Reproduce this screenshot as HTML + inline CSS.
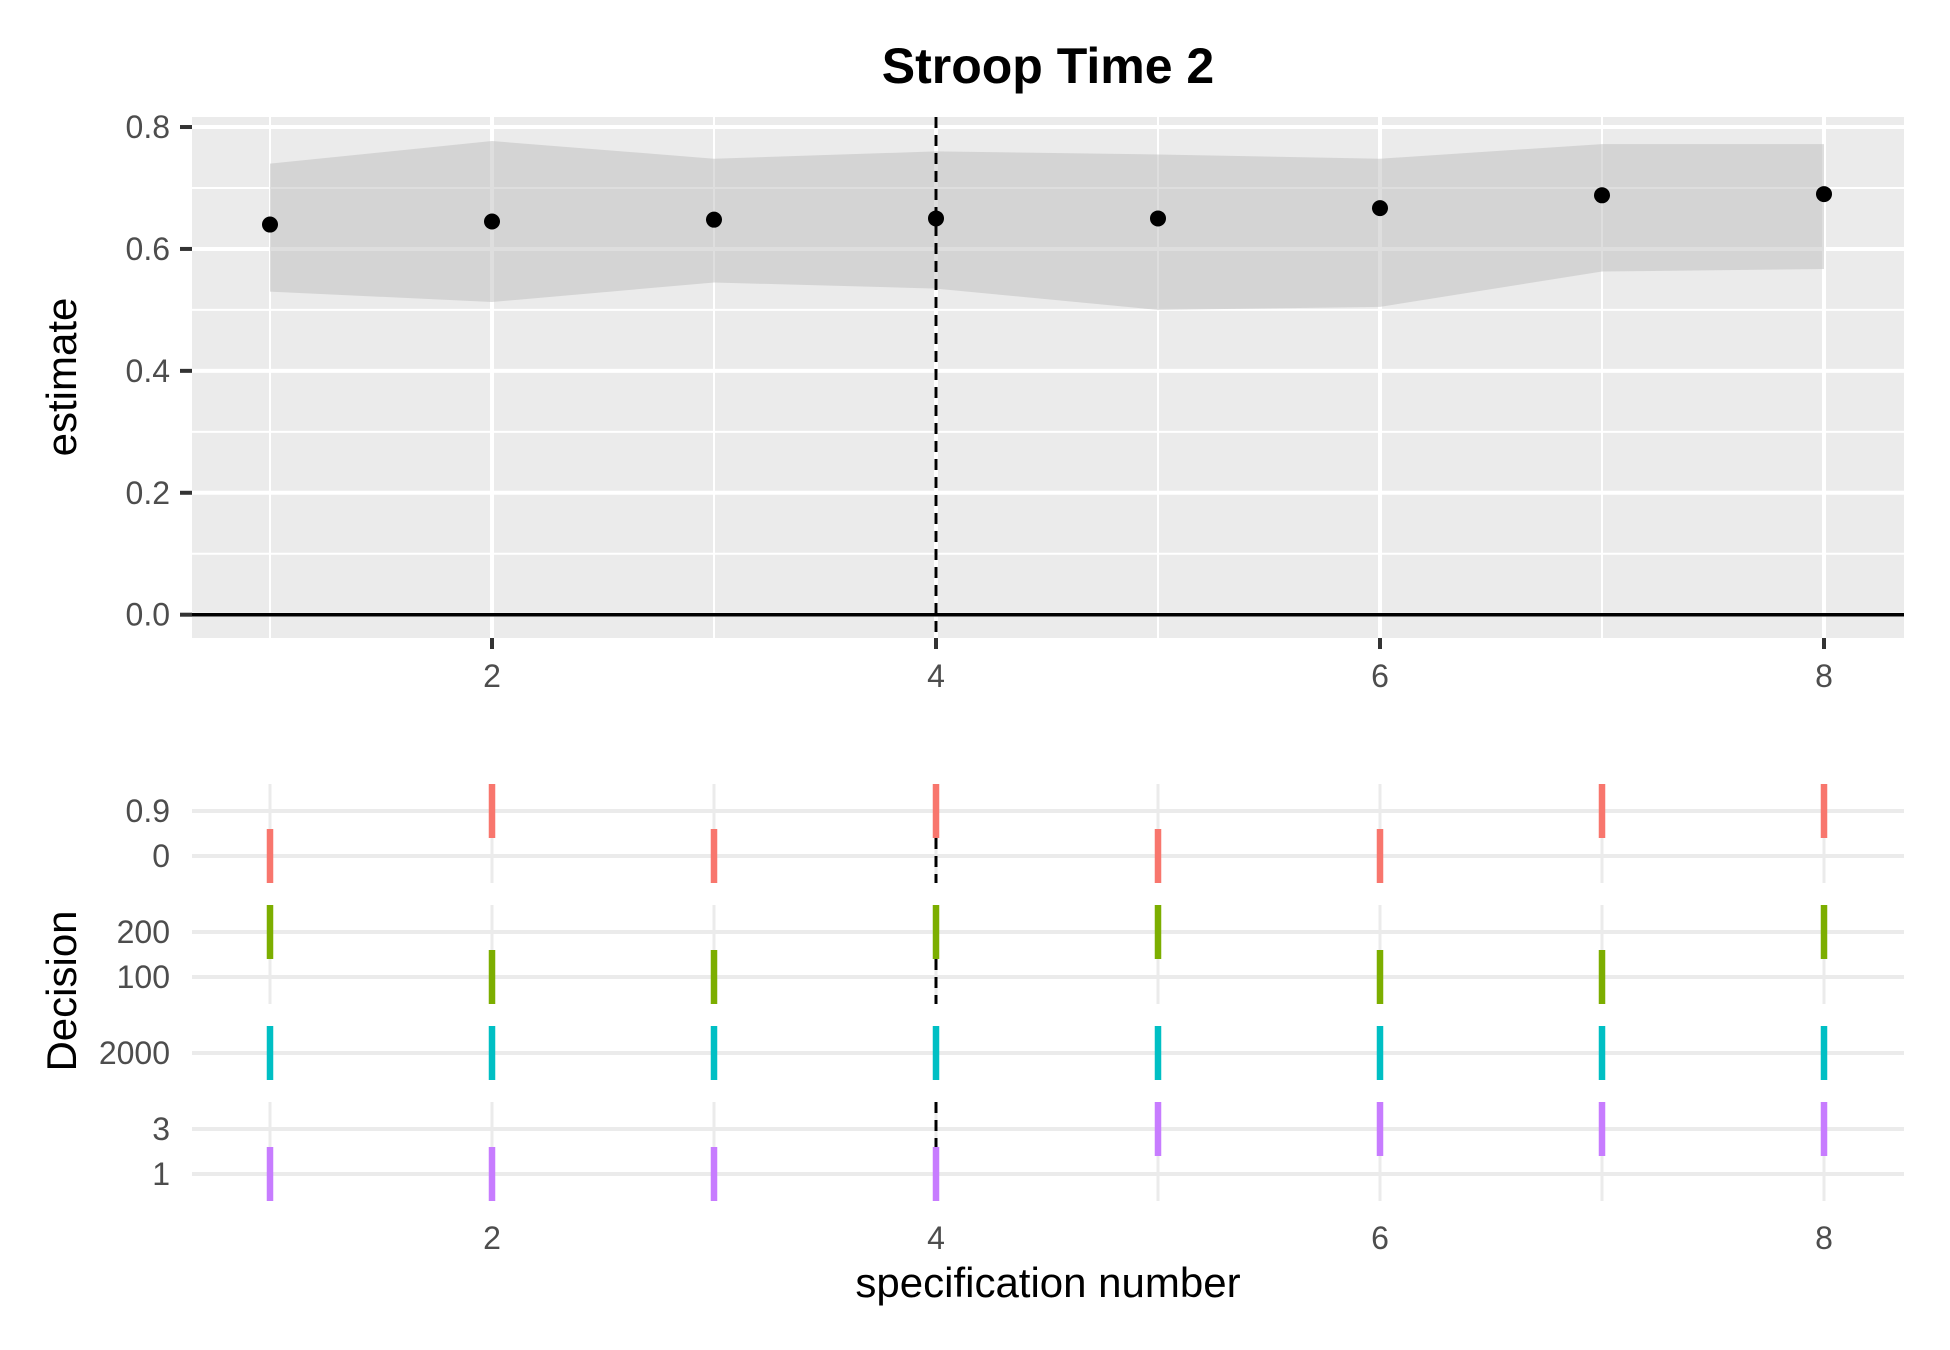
<!DOCTYPE html>
<html><head><meta charset="utf-8"><style>
html,body{margin:0;padding:0;background:#fff;}
svg{display:block;font-family:"Liberation Sans",Arial,sans-serif;}
</style></head><body>
<svg id="chart" width="1950" height="1350" viewBox="0 0 1950 1350" xmlns="http://www.w3.org/2000/svg">
<text x="1048" y="83" font-size="50" font-weight="bold" text-anchor="middle" fill="#000">Stroop Time 2</text>
<g id="topPanel"></g>
<g id="bottomPanel"></g>
<text transform="translate(76,377) rotate(-90)" font-size="42" text-anchor="middle" fill="#000">estimate</text>
<text transform="translate(76,991) rotate(-90)" font-size="42" text-anchor="middle" fill="#000">Decision</text>
<text x="1048" y="1297" font-size="42" text-anchor="middle" fill="#000">specification number</text>
</svg>
<script>
const specs = [1,2,3,4,5,6,7,8];
const estimates = [0.64,0.645,0.648,0.65,0.65,0.667,0.688,0.69];
const upper = [0.74,0.777,0.748,0.76,0.755,0.748,0.772,0.772];
const lower = [0.53,0.513,0.545,0.535,0.5,0.505,0.563,0.567];
const yTicks = [0,0.2,0.4,0.6,0.8];
const yTickLabels = ["0.0","0.2","0.4","0.6","0.8"];
const xTicks = [2,4,6,8];
const highlightSpec = 4;
const dec1Cats = ["0","0.9"];
const dec1Vals = ["0","0.9","0","0.9","0","0","0.9","0.9"];
const dec2Cats = ["100","200"];
const dec2Vals = ["200","100","100","200","200","100","100","200"];
const dec3Cats = ["2000"];
const dec3Vals = ["2000","2000","2000","2000","2000","2000","2000","2000"];
const dec4Cats = ["1","3"];
const dec4Vals = ["1","1","1","1","3","3","3","3"];

const NS="http://www.w3.org/2000/svg";
function mk(parent,tag,attrs){const e=document.createElementNS(NS,tag);for(const k in attrs)e.setAttribute(k,attrs[k]);parent.appendChild(e);return e;}
const L=192,R=1904;
const X=v=>270+(v-1)*222;
const Y=v=>614.7-v*609.6;
const topG=document.getElementById('topPanel');
let el;
el=mk(topG,'rect',{x:L,y:117,width:R-L,height:521,fill:'#ebebeb'});


[0.1,0.3,0.5,0.7].forEach(v=>{el=mk(topG,'line',{x1:L,x2:R,y1:Y(v),y2:Y(v),stroke:'#fff','stroke-width':2});

});
[1,3,5,7].forEach(v=>{el=mk(topG,'line',{x1:X(v),x2:X(v),y1:117,y2:638,stroke:'#fff','stroke-width':2});

});
yTicks.forEach((v,i)=>{el=mk(topG,'line',{x1:L,x2:R,y1:Y(v),y2:Y(v),stroke:'#fff','stroke-width':4});


el=mk(topG,'line',{x1:180,x2:L,y1:Y(v),y2:Y(v),stroke:'#333','stroke-width':4});


el=mk(topG,'text',{x:170,y:Y(v)+11,'font-size':32,'text-anchor':'end',fill:'#4d4d4d'});el.textContent=yTickLabels[i];

});
xTicks.forEach(v=>{el=mk(topG,'line',{x1:X(v),x2:X(v),y1:117,y2:638,stroke:'#fff','stroke-width':4});

});
let d='M'+specs.map((s,i)=>X(s)+','+Y(upper[i])).join(' L')+' L'+specs.slice().reverse().map((s,j)=>{const i=specs.length-1-j;return X(s)+','+Y(lower[i]);}).join(' L')+'Z';
el=mk(topG,'path',{d:d,fill:'#bdbdbd','fill-opacity':0.5});


el=mk(topG,'line',{x1:L,x2:R,y1:Y(0),y2:Y(0),stroke:'#000','stroke-width':3.5});


el=mk(topG,'line',{x1:X(highlightSpec),x2:X(highlightSpec),y1:117,y2:638,stroke:'#000','stroke-width':3,'stroke-dasharray':'11 7'});


specs.forEach((s,i)=>{el=mk(topG,'circle',{cx:X(s),cy:Y(estimates[i]),r:8,fill:'#000'});

});
xTicks.forEach(v=>{el=mk(topG,'line',{x1:X(v),x2:X(v),y1:638,y2:649,stroke:'#333','stroke-width':4});


el=mk(topG,'text',{x:X(v),y:687,'font-size':32,'text-anchor':'middle',fill:'#4d4d4d'});el.textContent=v;

});

const bottomG=document.getElementById('bottomPanel');
const facets=[{cats:dec1Cats,vals:dec1Vals,base:856,col:'#F8766D'},{cats:dec2Cats,vals:dec2Vals,base:977,col:'#7CAE00'},{cats:dec3Cats,vals:dec3Vals,base:1053,col:'#00BFC4'},{cats:dec4Cats,vals:dec4Vals,base:1174,col:'#C77CFF'}];
const STEP=45;
facets.forEach(f=>{
 const FY=c=>f.base-f.cats.indexOf(c)*STEP;
 const y0=f.base+0.6*STEP, y1=f.base-(f.cats.length-1)*STEP-0.6*STEP;
 specs.forEach(s=>{el=mk(bottomG,'line',{x1:X(s),x2:X(s),y1:y0,y2:y1,stroke:'#ebebeb','stroke-width':3});
 
 });
 f.cats.forEach(c=>{el=mk(bottomG,'line',{x1:L,x2:R,y1:FY(c),y2:FY(c),stroke:'#ebebeb','stroke-width':4});
 
 
 el=mk(bottomG,'text',{x:170,y:FY(c)+11,'font-size':32,'text-anchor':'end',fill:'#4d4d4d'});el.textContent=c;
 
 });
 el=mk(bottomG,'line',{x1:X(highlightSpec),x2:X(highlightSpec),y1:y1,y2:y0,stroke:'#000','stroke-width':3,'stroke-dasharray':'11 7'});
 
 
 specs.forEach((s,i)=>{const y=FY(f.vals[i]);el=mk(bottomG,'line',{x1:X(s),x2:X(s),y1:y-27,y2:y+27,stroke:f.col,'stroke-width':6.5});
 
 });
});
xTicks.forEach(v=>{el=mk(bottomG,'text',{x:X(v),y:1249,'font-size':32,'text-anchor':'middle',fill:'#4d4d4d'});el.textContent=v;

});
</script>
</body></html>
